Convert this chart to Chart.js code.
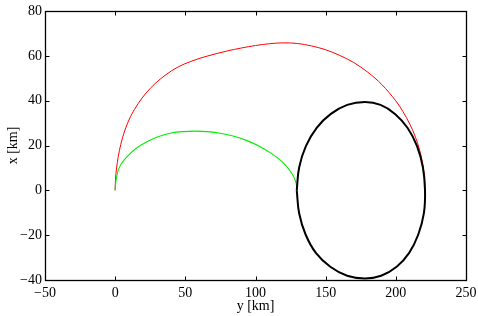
<!DOCTYPE html>
<html>
<head>
<meta charset="utf-8">
<script src="https://cdn.jsdelivr.net/npm/chart.js@4/dist/chart.umd.min.js"></script>
<style>
html,body{margin:0;padding:0;background:#fff;}
#wrap{width:478px;height:316px;}
</style>
</head>
<body>
<div id="wrap"><canvas id="c" width="478" height="316"></canvas></div>
<script>
// Red trajectory (x = along-track y [km], y = radial x [km])
const redX = [0, 0.25, 1, 2.2, 4, 7, 11, 16.5, 22, 28.4, 36, 45, 54, 64, 80, 90, 100, 110, 120, 130, 140, 150, 160, 170, 180, 190, 200, 205, 210, 214, 217, 219, 220.2, 220.8];
const redY = [0, 5, 10, 15, 20.5, 26.9, 33, 38.8, 43.4, 47.6, 51.5, 55.1, 57.5, 59.6, 62.2, 63.5, 64.6, 65.4, 65.8, 65.5, 64.4, 62.7, 60.2, 57, 52.7, 47.2, 39.9, 35.2, 29.5, 23.7, 17.8, 12.3, 7.1, 0];
// Green trajectory
const greenX = [0, 0.3, 1, 2.2, 4.5, 8.7, 15, 23, 31, 40, 48, 57, 66, 75, 84, 93, 103, 111, 117.5, 122, 125.8, 128, 129.1, 129.4];
const greenY = [0, 3, 5.8, 9, 12, 15.2, 18.8, 21.8, 24, 25.6, 26.2, 26.4, 26.2, 25.5, 24.2, 22.4, 19.6, 16.6, 13.6, 10.8, 7.6, 5, 2.6, 0];
// Black closed orbit
const blackX = [129.4, 131.1, 135.9, 143.6, 153.7, 165.4, 178, 189.1, 199.4, 208.3, 215.1, 219.3, 220.8, 220, 216, 209.5, 200.6, 189.5, 178, 165.3, 153.3, 143, 135.7, 131.1, 129.4];
const blackY = [0, 10.2, 19.7, 27.9, 34.1, 38.1, 39.4, 38.1, 34.1, 27.9, 19.7, 10.2, 0, -10.2, -19.7, -27.9, -34.1, -38.1, -39.3, -38.1, -34.1, -27.9, -19.7, -10.2, 0];
// Ticks
const xTicks = [-50, 0, 50, 100, 150, 200, 250];
const yTicks = [-40, -20, 0, 20, 40, 60, 80];

const pts = (xs, ys) => xs.map((v, i) => ({x: v, y: ys[i]}));
const fmt = v => (v < 0 ? '\u2212' + Math.abs(v) : String(v));
const FONT = {family: '"Liberation Serif", "Times New Roman", serif', size: 14};

const innerTicks = {
  id: 'innerTicks',
  afterDraw(chart) {
    const {ctx, chartArea: a, scales: {x, y}} = chart;
    ctx.save();
    ctx.strokeStyle = '#000';
    ctx.lineWidth = 1;
    ctx.beginPath();
    const L = 4;
    const left = Math.round(a.left) + 0.5, right = Math.round(a.right) + 0.5;
    const top = Math.round(a.top) + 0.5, bottom = Math.round(a.bottom) + 0.5;
    xTicks.forEach(v => {
      const px = Math.round(x.getPixelForValue(v)) + 0.5;
      ctx.moveTo(px, bottom); ctx.lineTo(px, bottom - L);
      ctx.moveTo(px, top); ctx.lineTo(px, top + L);
    });
    yTicks.forEach(v => {
      const py = Math.round(y.getPixelForValue(v)) + 0.5;
      ctx.moveTo(left, py); ctx.lineTo(left + L, py);
      ctx.moveTo(right, py); ctx.lineTo(right - L, py);
    });
    ctx.stroke();
    ctx.lineWidth = 1.3;
    ctx.strokeRect(left, top, right - left, bottom - top);
    ctx.restore();
  }
};

new Chart(document.getElementById('c'), {
  type: 'scatter',
  data: {
    datasets: [
      {data: pts(redX, redY), borderColor: '#ff0000', borderWidth: 1, order: 2, tension: 0.35},
      {data: pts(greenX, greenY), borderColor: '#00ee00', borderWidth: 1.1, order: 1, tension: 0.35},
      {data: pts(blackX, blackY), borderColor: '#000000', borderWidth: 2, order: 0, tension: 0.4}
    ].map(d => Object.assign(d, {showLine: true, pointRadius: 0, fill: false}))
  },
  options: {
    responsive: false,
    animation: false,
    devicePixelRatio: 1,
    layout: {padding: {left: 0, right: 12, top: 11, bottom: 0}},
    plugins: {legend: {display: false}, tooltip: {enabled: false}},
    scales: {
      x: {
        type: 'linear', min: -50, max: 250,
        afterBuildTicks: s => { s.ticks = xTicks.map(v => ({value: v})); },
        afterFit: s => { s.height = 36; s.paddingLeft = 0; s.paddingRight = 0; },
        grid: {display: false, drawTicks: false},
        border: {display: false},
        ticks: {autoSkip: false, maxRotation: 0, padding: 5, color: '#000', font: FONT, callback: v => fmt(v)},
        title: {display: true, text: 'y [km]', color: '#000', font: FONT, padding: {top: 0, bottom: 1}}
      },
      y: {
        type: 'linear', min: -40, max: 80,
        afterBuildTicks: s => { s.ticks = yTicks.map(v => ({value: v})); },
        afterFit: s => { s.width = 45; s.paddingTop = 0; s.paddingBottom = 0; },
        grid: {display: false, drawTicks: false},
        border: {display: false},
        ticks: {autoSkip: false, padding: 3, color: '#000', font: FONT, callback: v => fmt(v)},
        title: {display: true, text: 'x [km]', color: '#000', font: FONT, padding: {top: 5, bottom: 0}}
      }
    }
  },
  plugins: [innerTicks]
});
</script>
</body>
</html>
